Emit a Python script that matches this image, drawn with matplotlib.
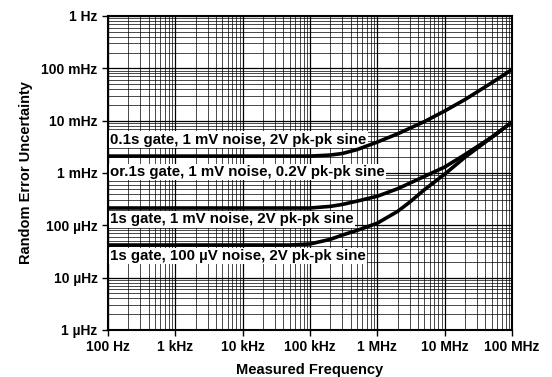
import matplotlib
matplotlib.use('Agg')
from matplotlib import pyplot as plt
from matplotlib.ticker import LogLocator, NullFormatter

plt.rcParams['font.family'] = ['Liberation Sans', 'DejaVu Sans']

# curve values (frequency in Hz, uncertainty in Hz)
freq_top = [1e2, 1e3, 1e4, 1e5, 2e5, 3e5, 5e5, 1e6, 2e6, 5e6, 1e7, 2e7, 5e7, 1e8]
unc_top = [2.1e-3, 2.1e-3, 2.1e-3, 2.1e-3, 2.2e-3, 2.35e-3, 2.8e-3, 3.9e-3,
           5.6e-3, 9.6e-3, 0.0153, 0.0253, 0.053, 0.095]

freq_mid = [1e2, 1e3, 1e4, 1e5, 2e5, 3e5, 5e5, 1e6, 2e6, 5e6, 1e7, 2e7, 5e7, 1e8]
unc_mid = [2.14e-4, 2.14e-4, 2.14e-4, 2.14e-4, 2.3e-4, 2.5e-4, 2.9e-4, 3.6e-4,
           5.0e-4, 8.6e-4, 1.3e-3, 2.25e-3, 4.85e-3, 9.4e-3]

freq_low = [1e2, 1e3, 1e4, 5e4, 1e5, 2e5, 3e5, 5e5, 1e6, 2e6, 3e6, 5e6, 1e7,
            2e7, 5e7, 1e8]
unc_low = [4.2e-5, 4.2e-5, 4.2e-5, 4.2e-5, 4.4e-5, 5.4e-5, 6.5e-5, 8.0e-5,
           1.1e-4, 1.85e-4, 2.75e-4, 4.8e-4, 9.5e-4, 2.0e-3, 4.8e-3, 9.4e-3]

x_ticks = [1e2, 1e3, 1e4, 1e5, 1e6, 1e7, 1e8]
x_labels = ['100 Hz', '1 kHz', '10 kHz', '100 kHz', '1 MHz', '10 MHz', '100 MHz']
y_ticks = [1e-6, 1e-5, 1e-4, 1e-3, 1e-2, 1e-1, 1]
y_labels = ['1 \u00b5Hz', '10 \u00b5Hz', '100 \u00b5Hz', '1 mHz', '10 mHz',
            '100 mHz', '1 Hz']

curve_labels = [
    ('0.1s gate, 1 mV noise, 2V pk-pk sine', 4.3e-3),
    ('or.1s gate, 1 mV noise, 0.2V pk-pk sine', 1.04e-3),
    ('1s gate, 1 mV noise, 2V pk-pk sine', 1.3e-4),
    ('1s gate, 100 \u00b5V noise, 2V pk-pk sine', 2.6e-5),
]

fig = plt.figure(figsize=(5.52, 3.77), dpi=100)
ax = fig.add_axes([0.1957, 0.1247, 0.732, 0.833])
ax.set_xscale('log')
ax.set_yscale('log')
ax.set_xlim(1e2, 1e8)
ax.set_ylim(1e-6, 1)

ax.xaxis.set_minor_locator(LogLocator(base=10, subs=range(2, 10), numticks=20))
ax.yaxis.set_minor_locator(LogLocator(base=10, subs=range(2, 10), numticks=20))
ax.xaxis.set_minor_formatter(NullFormatter())
ax.yaxis.set_minor_formatter(NullFormatter())
ax.grid(which='major', color='black', lw=0.9)
ax.grid(which='minor', color='black', lw=0.5)

ax.plot(freq_top, unc_top, color='black', lw=2.6, zorder=4)
ax.plot(freq_mid, unc_mid, color='black', lw=2.6, zorder=4)
ax.plot(freq_low, unc_low, color='black', lw=2.6, zorder=4)

for text, yv in curve_labels:
    ax.text(1.08e2, yv, text, fontsize=10.8, fontweight='bold', va='center',
            ha='left', zorder=3,
            bbox=dict(facecolor='white', edgecolor='none', pad=1.0))

ax.set_xticks(x_ticks)
ax.set_xticklabels(x_labels, fontsize=10, fontweight='bold')
ax.set_yticks(y_ticks)
ax.set_yticklabels(y_labels, fontsize=10, fontweight='bold')
ax.tick_params(which='major', length=4, width=1, direction='out', colors='black')
ax.tick_params(which='minor', length=0)
for s in ax.spines.values():
    s.set_linewidth(1.5)

ax.set_xlabel('Measured Frequency', fontsize=10.5, fontweight='bold', labelpad=6)
ax.set_ylabel('Random Error Uncertainty', fontsize=10.5, fontweight='bold',
              labelpad=6)

fig.savefig('out.png', dpi=100)
